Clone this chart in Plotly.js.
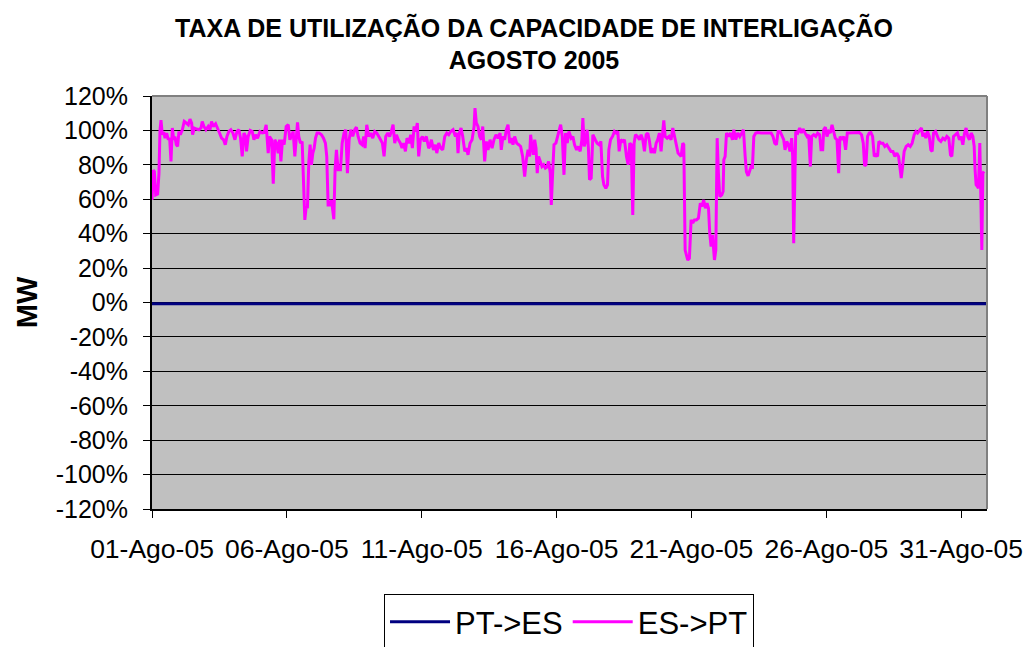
<!DOCTYPE html>
<html>
<head>
<meta charset="utf-8">
<script src="https://cdn.plot.ly/plotly-3.0.1.min.js"></script>
<style>html,body{margin:0;padding:0;background:#fff;}#chart{width:1026px;height:647px;}</style>
</head>
<body>
<div id="chart"></div>
<script>
// Hours since 01-Ago-2005 00:00 and utilisation (%)
const hoursES = [
0,1.2,2.1,3.3,5,6.2,7.1,8,9.2,10.4,
11.6,13,14.5,15.7,16.9,18.1,19.3,20.4,21.6,22.8,
24,25.2,27,28.7,30.5,32.3,33.8,35.3,36.1,37.6,
39.7,41.8,43.6,44.7,46.2,48,50,51.6,53,54.5,
56.6,58.4,60.1,61.9,63.7,65.2,66.7,68.4,70.2,72,
73.8,75.6,77.3,78.8,80.3,81.8,83.3,84.1,85.6,87.4,
89.2,90.7,92.1,93.9,96,98.1,99.9,101.6,103.4,104.6,
106.4,107.9,109.3,110.8,112.3,113.5,114.7,116.1,117.6,119.4,
121.2,122.7,
124.1,125.6,127.1,128.3,129.5,130.6,132.1,133.6,134.8,136,
137.2,138.3,139.5,140.7,141.9,143.1,144.3,145.5,146.9,148.7,
150.8,152.6,154.3,155.5,156.7,158.5,159.7,161.8,162.9,164.1,
165.6,167.7,169.2,170.9,172.4,173.9,175.4,176.9,178.6,180.4,
181.9,183.4,185.2,186.9,188.4,189.6,191.1,192.9,194.6,196.4,
198.2,200,201.8,203.5,205,206.5,208,209.8,211.5,213,
214.5,216,217.5,219.2,221,222.5,224,225.5,226.9,228.7,
230.2,231.7,233.2,234.6,236.1,237.3,238.8,240.6,242.3,244.1,
246.2,
247.1,248.6,250.4,252.2,253.4,255.1,256.9,258.7,260.5,262.3,
264,265.8,267.9,270,271.4,272.3,273.5,275,276.5,278.3,
280,281.2,283,284.8,286.6,287.4,288.6,290.1,291.6,293.1,
294.3,295.1,296,297.5,299,300.8,302.6,304.3,306.1,307.9,
309.7,310.8,312.3,313.8,315.3,316.8,318.3,319.7,321.2,322.7,
324.5,326.3,328,329.8,331.6,333.1,334.6,336,336.9,338.1,
339.3,340.5,341.7,342.8,344,345.5,347,348.5,350,351.4,
352.9,354.4,355.3,356.5,357.7,359.4,360.9,362.4,363.6,365.1,
366.6,368,369.5,371,
373,374.5,376,377.8,379.5,381,382.5,383.4,384.6,386.1,
387.2,388.4,389.3,390.8,392.3,394.4,396.1,397.9,399.4,400.9,
402.1,403.8,405.3,406.5,408,409.8,411.5,413,414.5,415.7,
417.2,419,420.4,422.2,423.7,425.2,426.4,427.8,429,430.2,
432,433.8,435.2,436.7,438.2,439.7,441.2,442.7,444.1,445.6,
447.1,448.6,450,451.5,453,454.5,455.4,456.6,458.4,460.1,
461.9,463.4,464.9,466.7,468.1,469.6,470.8,472.3,473.2,474.4,
475.5,476.7,478.2,479.7,481.2,482.7,484.4,486.2,487.9,489.4,
490.9,492.4,493.9,
495.2,496.3,497.5,498.7,500.5,501.7,502.9,504,505.2,507,
508.2,508.8,510,511.2,513,514.7,516.5,517.7,519.5,521.2,
523,524.8,526.3,527.8,528.9,530.4,531.9,533.1,534.3,535.5,
537.2,539,542,544.9,547.9,550.9,552.6,554.1,555.6,557.1,
558.9,560.6,562.1,563.3,564.8,566.3,567.7,569.2,570.1,571,
571.9,572.8,574.6,576.3,577.8,579.3,581.1,582.9,584.3,585.8,
587,588.8,590.6,592.3,594.1,595.3,596.8,597.7,599.2,600.6,
602.1,603.6,605.1,606.6,608,609.5,611,612.2,613.7,615.5,
617.2,618.7,
620.4,622.5,624.9,627.3,629.3,631.4,632.9,634.1,635.3,636.7,
638.2,639.7,641.2,642.7,644.1,645.6,646.8,648.6,650.4,652.1,
653.9,655.7,657.5,659.3,661,662.8,664.3,665.8,666.7,667.9,
669.3,671.1,672.9,674.7,676.4,678.2,679.7,681.2,683,684.7,
685.9,687.1,688.6,690.1,691.6,693,694.2,695.4,697.2,698.7,
700.1,701.9,703.7,705.5,707.3,709,710.5,711.7,713.2,715,
716.7,718.5,720,721.5,723,724.4,725.9,727.4,728.9,730.4,
731.6,732.4,733.3,734.5,735.4,736.6,737.5,738.4,739.3,740.4
];
const valuesES = [
59.6,77,76,62.5,63,75,100,106,97.5,99,
95.5,98.5,94.6,95.5,82,101.4,94.6,96.5,91.7,90.7,
99.4,97.5,100.4,105.2,104.3,103.3,106.6,104.3,97.5,101.4,
100.8,100.4,101.4,105.2,102.3,100.4,102.3,100.4,105.2,102.3,
103.9,101.4,98.5,95.5,94.6,91.7,96.5,99.4,100.4,98.5,
94.6,99.4,100.4,95.5,84.9,98.5,96.5,87.8,96.5,100,
99.4,94.6,97.5,95.5,99.4,98.5,98.8,103.3,86.8,96.5,
94.6,69,94.6,92.6,86.8,94.6,82,94.6,91.7,102.3,
103.3,94.6,
96.5,99.4,84.9,97.5,104.7,96.5,92.6,93.6,75.2,48,
55.8,54.8,81,91.7,80,86.8,89.7,95.5,98.5,98.5,
97.5,95.5,92.6,84.9,56.7,56.7,59.6,48.4,77.1,88.7,
77.1,77.1,92.6,98.5,100.4,75.2,94.6,100.4,96.5,100.4,
101.9,96.5,92.6,91.7,96.5,89.7,103.3,96.5,98.5,95.5,
99.4,98.5,96.5,94.6,92.6,84.9,96.5,98.5,96.5,99.4,
103.3,92.6,97.5,94.6,92.6,89.7,92.6,87.8,95.5,92.6,
97.5,89.7,102.3,99.4,104.3,84.9,94.6,96.5,93.6,96.5,
89.7,
90.7,94.6,88.7,91.7,86.8,92.6,89.7,88.7,96.5,98.5,
97.5,99.4,100.4,96.5,98.5,86.8,98.5,101.4,96.5,87.8,
89.7,85.8,92.6,94.6,102.3,113,104.3,102.3,96.5,94.6,
102.3,92.6,82,93.6,88.7,94.6,89.7,94.6,97.5,95.5,
98.5,88.7,96.5,94.6,100.4,103.3,92.6,95.5,91.7,96.5,
92.6,91.7,90.7,84.9,73.2,82.9,88.7,84.9,97.5,90.7,
85.8,94.6,89.7,75.2,84.9,82,79,80,78.1,78.7,
82,75.2,56.7,75.2,91.7,92.6,96.5,100.4,103.3,96.5,
74.2,98.5,92.6,99.4,
95.5,96.5,91.7,88.7,90.7,87.8,94.6,107.2,90.7,94.6,
100.4,88.7,71.3,72.3,97.5,94.6,92.6,91.7,93.6,73.2,
68.4,66.4,68.4,88.7,94.6,96.5,99.4,98.5,99.4,87.8,
94.6,93.6,94.6,84.9,80,92.6,91.7,50.9,92.6,97.5,
96.5,94.6,97.5,94.6,87.8,97.5,98.5,93.6,86.8,89.7,
86.8,92.6,94.6,98.5,87.8,99.4,105.8,96.5,95.5,96.5,
94.6,101.4,96.5,91.7,86.8,85.8,84.9,92.6,91.7,30.5,
26.7,24.7,25.7,48,46.1,48,48,49,57.7,55.8,
59.6,54.8,57.7,
54.8,40.2,32.5,39.3,24.7,30.5,95.5,75.2,61.6,62.6,
64.5,82.9,84.9,98.5,96.5,98.5,94.6,100.4,94.6,98.5,
96.5,98.5,100.4,84.9,76.1,73.6,77.1,79,78.7,96.5,
98.5,98.8,98.5,98.5,98.8,98.5,96.5,92.6,91.7,99.4,
99.4,96.5,94.6,88.7,93.6,91.7,87.8,95.5,84.9,34.4,
84.9,99.4,98.5,101.4,98.5,100.8,98.5,96.5,97.5,79,
96.5,97.5,96.5,98.5,97.5,88.7,88.7,100.4,101.9,96.5,
99.4,98.5,103.3,99.4,95.5,94.6,75.2,96.5,94.6,96.5,
88.7,98.5,
98.5,98.5,98.8,98.5,98.8,97.5,92.6,79.4,80,96.5,
98.5,98.8,96.5,84.9,85.8,84.9,93.6,92.6,92.6,90.7,
91.7,89.7,87.8,87.8,84.9,86.8,84.9,77.1,72.3,79,
87.8,90.7,91.7,90.7,92.6,97.5,99.4,98.5,100.4,101.4,
96.5,98.5,95.5,99.4,96.5,88.7,87.8,98.5,99.4,96.5,
94.6,93.6,95.5,94.6,96.5,95.5,85.8,84.9,96.5,97.5,
98.5,94.6,96.5,91.7,98.5,101.4,96.5,94.6,98.5,96.5,
90.7,77.1,68.4,67.4,66.4,92.6,65.5,30.5,75.2,76.1
];
// PT->ES stays just below zero all month
const hoursPT = [0, 743];
const valuesPT = [-0.7, -0.7];

const tickDates = ['2005-08-01','2005-08-06','2005-08-11','2005-08-16','2005-08-21','2005-08-26','2005-08-31'];
const tickLabels = ['01-Ago-05','06-Ago-05','11-Ago-05','16-Ago-05','21-Ago-05','26-Ago-05','31-Ago-05'];
const yTicks = [-120,-100,-80,-60,-40,-20,0,20,40,60,80,100,120];

function toDate(h) {
  const d = new Date(Date.UTC(2005, 7, 1) + Math.round(h * 3600000));
  return d.toISOString().replace('T', ' ').slice(0, 19);
}

const FONT = 'Liberation Sans, Arial, sans-serif';

const traces = [
  { x: hoursPT.map(toDate), y: valuesPT, name: 'PT->ES', type: 'scatter', mode: 'lines',
    line: { color: '#000080', width: 3 } },
  { x: hoursES.map(toDate), y: valuesES, name: 'ES->PT', type: 'scatter', mode: 'lines',
    line: { color: '#FF00FF', width: 3 } }
];

const layout = {
  width: 1026, height: 647,
  margin: { l: 152, r: 39, t: 96, b: 138, pad: 0 },
  paper_bgcolor: '#ffffff',
  plot_bgcolor: '#C0C0C0',
  font: { family: FONT, color: '#000000', size: 25 },
  title: {
    text: '<b>TAXA DE UTILIZAÇÃO DA CAPACIDADE DE INTERLIGAÇÃO<br>AGOSTO 2005</b>',
    font: { family: FONT, size: 25, color: '#000000' },
    x: 0.5205, xanchor: 'center', xref: 'container',
    y: 0.943, yanchor: 'top', yref: 'container'
  },
  xaxis: {
    type: 'date',
    range: [toDate(0), toDate(743)],
    tickmode: 'array', tickvals: tickDates, ticktext: tickLabels,
    ticks: 'outside', ticklen: 7, tickwidth: 1, tickcolor: '#000',
    ticklabelstandoff: 8,
    showgrid: false, zeroline: false,
    showline: true, linecolor: '#000', linewidth: 2,
    tickfont: { family: FONT, size: 26.5, color: '#000' },
    automargin: false,
    fixedrange: true
  },
  yaxis: {
    range: [-120, 120],
    tickmode: 'array', tickvals: yTicks, ticktext: yTicks.map(v => v + '%'),
    ticks: 'outside', ticklen: 7, tickwidth: 1, tickcolor: '#000',
    ticklabelstandoff: 10,
    showgrid: true, gridcolor: '#000000', gridwidth: 1,
    zeroline: false,
    showline: true, linecolor: '#000', linewidth: 2,
    tickfont: { family: FONT, size: 25, color: '#000' },
    title: { text: '<b>MW</b>', font: { family: FONT, size: 29, color: '#000' }, standoff: 10 },
    automargin: false,
    fixedrange: true
  },
  shapes: [
    { type: 'line', xref: 'paper', yref: 'paper', x0: 0, x1: 1, y0: 1, y1: 1,
      line: { color: '#808080', width: 2 }, layer: 'above' },
    { type: 'line', xref: 'paper', yref: 'paper', x0: 1, x1: 1, y0: 0, y1: 1,
      line: { color: '#808080', width: 2 }, layer: 'above' }
  ],
  showlegend: true,
  legend: {
    orientation: 'h',
    xref: 'container', yref: 'container',
    x: 0.5546, xanchor: 'center', y: 0.0819, yanchor: 'top',
    bordercolor: '#000', borderwidth: 1, bgcolor: '#ffffff',
    font: { family: FONT, size: 31, color: '#000' },
    itemwidth: 60, tracegroupgap: 0
  }
};

Plotly.newPlot('chart', traces, layout, { displayModeBar: false, staticPlot: true });
</script>
</body>
</html>
